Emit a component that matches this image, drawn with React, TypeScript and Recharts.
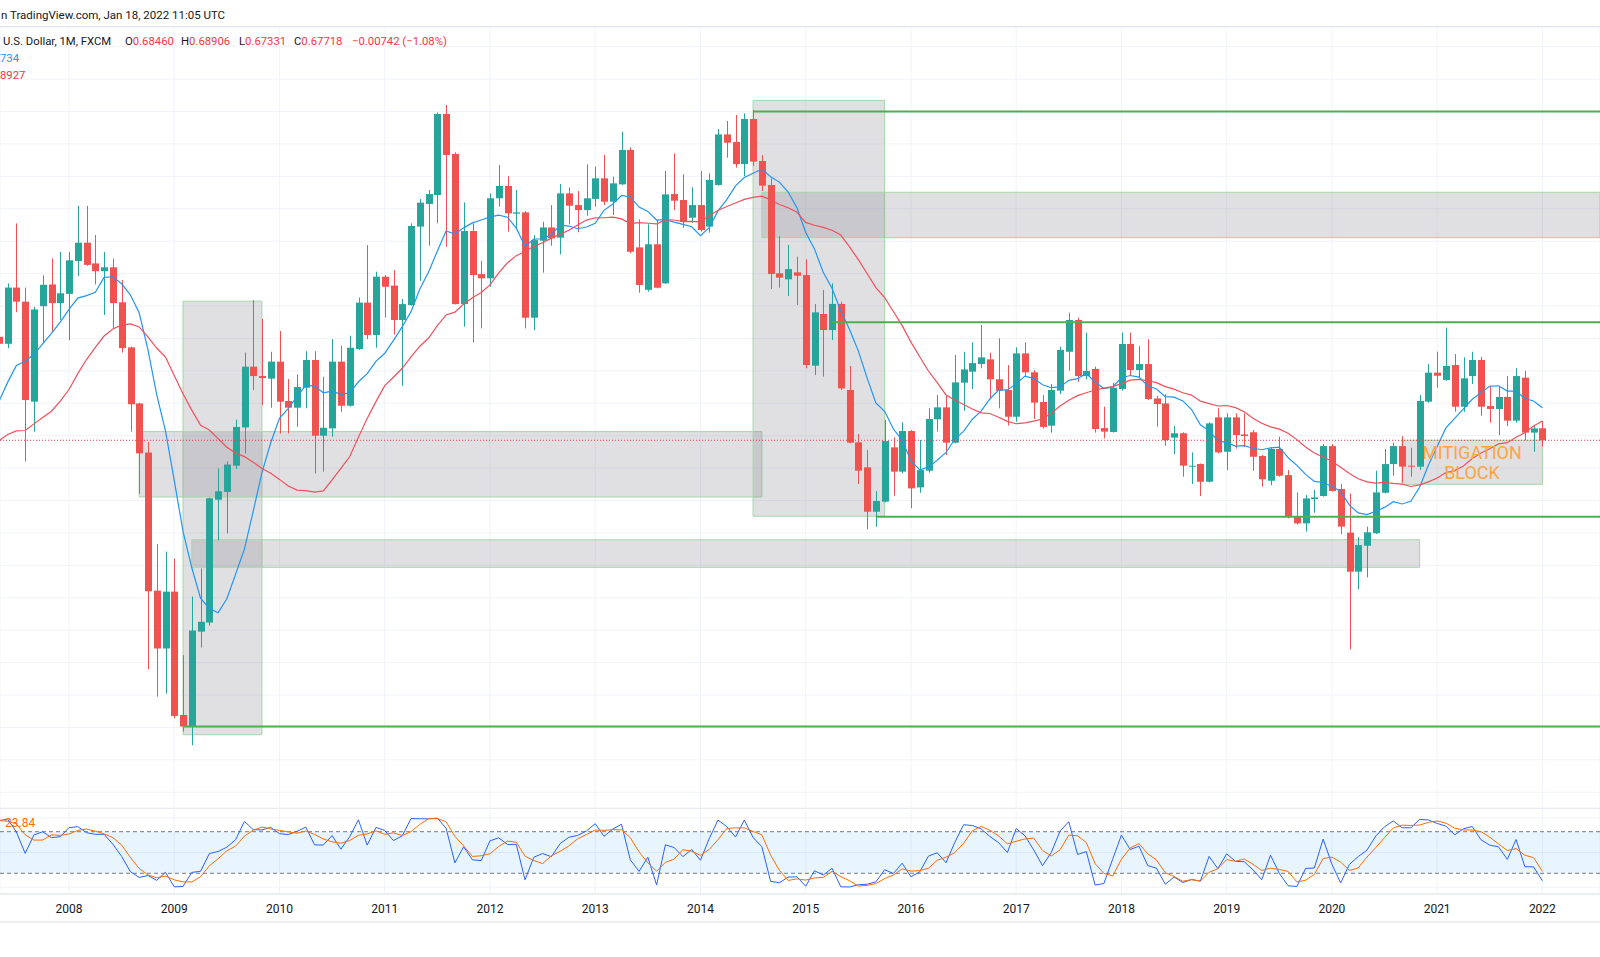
import { Bar, CartesianGrid, ComposedChart, Line, ReferenceArea, ReferenceLine, XAxis, YAxis } from "recharts"

// monthly candles, index 0 = Jan 2008, first candle = May 2007
const firstIndex = -8
const yearLabels = ["2008", "2009", "2010", "2011", "2012", "2013", "2014", "2015", "2016", "2017", "2018", "2019", "2020", "2021", "2022"]
const yearTicks = yearLabels.map((_, k) => k * 12)
const priceTicks = [0.46, 0.48, 0.5, 0.52, 0.54, 0.56, 0.58, 0.6, 0.62, 0.64, 0.66, 0.68, 0.7, 0.72, 0.74, 0.76, 0.78, 0.8, 0.82, 0.84, 0.86, 0.88, 0.9, 0.92]

const opens = [
  0.7410, 0.7367, 0.7714, 0.7627, 0.7010, 0.7599, 0.7733, 0.7618,
  0.7675, 0.7878, 0.7991, 0.7863, 0.7815, 0.7839, 0.7623, 0.7345, 0.6999, 0.6696, 0.5844, 0.5487,
  0.5838, 0.5077, 0.5006, 0.5591, 0.5647, 0.6405, 0.6453, 0.6615, 0.6851, 0.7226, 0.7168, 0.7152,
  0.7257, 0.7014, 0.6973, 0.7096, 0.7267, 0.6800, 0.6845, 0.7257, 0.6985, 0.7335, 0.7621, 0.7421,
  0.7781, 0.7726, 0.7514, 0.7606, 0.8090, 0.8230, 0.8285, 0.8785, 0.8538, 0.7612, 0.8063, 0.7797,
  0.7771, 0.8265, 0.8341, 0.8170, 0.8178, 0.7528, 0.8003, 0.8085, 0.8022, 0.8295, 0.8223, 0.8192,
  0.8261, 0.8388, 0.8244, 0.8351, 0.8563, 0.7962, 0.7700, 0.7981, 0.7740, 0.8291, 0.8254, 0.8145,
  0.8223, 0.8090, 0.8347, 0.8659, 0.8612, 0.8476, 0.8754, 0.8495, 0.8347, 0.7802, 0.7765, 0.7808,
  0.7791, 0.7232, 0.7551, 0.7452, 0.7613, 0.7082, 0.6759, 0.6605, 0.6331, 0.6393, 0.6728, 0.6578,
  0.6829, 0.6481, 0.6584, 0.6901, 0.6975, 0.6757, 0.7127, 0.7195, 0.7242, 0.7271, 0.7148, 0.7082,
  0.6917, 0.7308, 0.7191, 0.7008, 0.6862, 0.7078, 0.7318, 0.7514, 0.7168, 0.7212, 0.6847, 0.6823,
  0.7088, 0.7366, 0.7205, 0.7242, 0.7030, 0.6999, 0.6788, 0.6815, 0.6610, 0.6625, 0.6516, 0.6913,
  0.6701, 0.6913, 0.6808, 0.6821, 0.6675, 0.6522, 0.6718, 0.6557, 0.6300, 0.6259, 0.6409, 0.6428,
  0.6736, 0.6471, 0.6202, 0.5961, 0.6121, 0.6198, 0.6448, 0.6625, 0.6736, 0.6615, 0.6609, 0.7010,
  0.7189, 0.7144, 0.7236, 0.6979, 0.7168, 0.7267, 0.6983, 0.6965, 0.7039, 0.6893, 0.7158, 0.6819,
  0.6846,
]

const highs = [
  0.7460, 0.7740, 0.8110, 0.7714, 0.7594, 0.7789, 0.7893, 0.7934,
  0.7934, 0.8218, 0.8218, 0.8038, 0.7934, 0.7893, 0.7761, 0.7350, 0.7003, 0.6761, 0.6132, 0.6085,
  0.6041, 0.5446, 0.5808, 0.5981, 0.6418, 0.6598, 0.6641, 0.6899, 0.7313, 0.7636, 0.7520, 0.7318,
  0.7446, 0.7150, 0.7178, 0.7322, 0.7322, 0.7164, 0.7396, 0.7355, 0.7417, 0.7652, 0.7976, 0.7812,
  0.7791, 0.7822, 0.7643, 0.8110, 0.8260, 0.8316, 0.8795, 0.8840, 0.8548, 0.8240, 0.8110, 0.7880,
  0.8295, 0.8470, 0.8402, 0.8316, 0.8186, 0.8038, 0.8120, 0.8223, 0.8353, 0.8332, 0.8310, 0.8474,
  0.8460, 0.8532, 0.8398, 0.8676, 0.8579, 0.8135, 0.8104, 0.8131, 0.8433, 0.8542, 0.8413, 0.8332,
  0.8433, 0.8419, 0.8692, 0.8742, 0.8779, 0.8789, 0.8810, 0.8532, 0.8388, 0.8032, 0.7977, 0.7905,
  0.7888, 0.7613, 0.7699, 0.7740, 0.7627, 0.7230, 0.6810, 0.6712, 0.6458, 0.6897, 0.6790, 0.6882,
  0.6835, 0.6773, 0.6969, 0.7051, 0.7051, 0.7298, 0.7318, 0.7376, 0.7483, 0.7312, 0.7401, 0.7236,
  0.7345, 0.7376, 0.7205, 0.7051, 0.7119, 0.7349, 0.7559, 0.7528, 0.7436, 0.7226, 0.6979, 0.7127,
  0.7436, 0.7436, 0.7353, 0.7395, 0.7045, 0.7055, 0.6860, 0.6821, 0.6697, 0.6629, 0.6883, 0.6969,
  0.6938, 0.6938, 0.6938, 0.6835, 0.6681, 0.6728, 0.6794, 0.6588, 0.6450, 0.6434, 0.6465, 0.6749,
  0.6749, 0.6502, 0.6444, 0.6173, 0.6239, 0.6584, 0.6718, 0.6757, 0.6798, 0.6726, 0.7051, 0.7242,
  0.7318, 0.7467, 0.7304, 0.7283, 0.7318, 0.7287, 0.7107, 0.7107, 0.7168, 0.7216, 0.7201, 0.6860,
  0.68906,
]

const lows = [
  0.7280, 0.7340, 0.7562, 0.6641, 0.6825, 0.7371, 0.7436, 0.7514,
  0.7389, 0.7785, 0.7848, 0.7733, 0.7545, 0.7458, 0.7313, 0.6825, 0.6442, 0.5359, 0.5190, 0.5208,
  0.5056, 0.4974, 0.4890, 0.5493, 0.5628, 0.6154, 0.6197, 0.6594, 0.6691, 0.7081, 0.6990, 0.6973,
  0.6814, 0.6814, 0.6855, 0.6969, 0.6567, 0.6578, 0.6794, 0.6948, 0.6979, 0.7329, 0.7396, 0.7343,
  0.7528, 0.7425, 0.7108, 0.7602, 0.7756, 0.7972, 0.8110, 0.7966, 0.7610, 0.7473, 0.7374, 0.7462,
  0.7719, 0.8213, 0.8059, 0.8079, 0.7462, 0.7452, 0.7806, 0.7972, 0.7919, 0.8104, 0.8055, 0.8157,
  0.8213, 0.8223, 0.8162, 0.8347, 0.7925, 0.7682, 0.7689, 0.7709, 0.7736, 0.8192, 0.8083, 0.8114,
  0.8059, 0.8053, 0.8343, 0.8515, 0.8454, 0.8402, 0.8464, 0.8310, 0.7705, 0.7713, 0.7662, 0.7606,
  0.7216, 0.7174, 0.7164, 0.7390, 0.7082, 0.6753, 0.6502, 0.6222, 0.6238, 0.6389, 0.6430, 0.6568,
  0.6352, 0.6448, 0.6572, 0.6825, 0.6681, 0.6753, 0.6954, 0.7088, 0.7216, 0.7031, 0.6969, 0.6862,
  0.6886, 0.7164, 0.6903, 0.6845, 0.6819, 0.7057, 0.7201, 0.7133, 0.7148, 0.6819, 0.6784, 0.6819,
  0.7078, 0.7174, 0.7160, 0.7020, 0.6856, 0.6738, 0.6687, 0.6547, 0.6502, 0.6428, 0.6512, 0.6691,
  0.6588, 0.6720, 0.6732, 0.6584, 0.6485, 0.6494, 0.6547, 0.6290, 0.6253, 0.6208, 0.6325, 0.6424,
  0.6455, 0.6193, 0.5482, 0.5852, 0.5926, 0.6193, 0.6444, 0.6553, 0.6510, 0.6547, 0.6588, 0.7004,
  0.7096, 0.7139, 0.6948, 0.6948, 0.7119, 0.6923, 0.6880, 0.6804, 0.6860, 0.6880, 0.6773, 0.6701,
  0.67331,
]

const closes = [
  0.7367, 0.7714, 0.7627, 0.7020, 0.7579, 0.7731, 0.7618, 0.7679,
  0.7882, 0.7991, 0.7854, 0.7815, 0.7839, 0.7618, 0.7341, 0.6994, 0.6691, 0.5840, 0.5487, 0.5838,
  0.5071, 0.5006, 0.5598, 0.5652, 0.6414, 0.6457, 0.6622, 0.6854, 0.7226, 0.7168, 0.7156, 0.7257,
  0.7010, 0.6973, 0.7100, 0.7267, 0.6800, 0.6849, 0.7257, 0.6985, 0.7343, 0.7621, 0.7421, 0.7781,
  0.7719, 0.7514, 0.7612, 0.8094, 0.8238, 0.8291, 0.8785, 0.8532, 0.7612, 0.8063, 0.7791, 0.7771,
  0.8265, 0.8341, 0.8172, 0.8178, 0.7528, 0.8007, 0.8085, 0.8018, 0.8295, 0.8219, 0.8192, 0.8265,
  0.8388, 0.8244, 0.8357, 0.8563, 0.7935, 0.7730, 0.7981, 0.7713, 0.8289, 0.8250, 0.8120, 0.8223,
  0.8069, 0.8378, 0.8659, 0.8608, 0.8476, 0.8754, 0.8491, 0.8343, 0.7798, 0.7775, 0.7828, 0.7787,
  0.7236, 0.7561, 0.7452, 0.7613, 0.7092, 0.6757, 0.6584, 0.6331, 0.6397, 0.6767, 0.6578, 0.6829,
  0.6475, 0.6588, 0.6903, 0.6975, 0.6757, 0.7129, 0.7209, 0.7248, 0.7283, 0.7148, 0.7078, 0.6917,
  0.7308, 0.7191, 0.7004, 0.6854, 0.7082, 0.7329, 0.7514, 0.7168, 0.7199, 0.6841, 0.6825, 0.7096,
  0.7366, 0.7205, 0.7242, 0.7026, 0.6995, 0.6773, 0.6815, 0.6615, 0.6615, 0.6516, 0.6876, 0.6697,
  0.6913, 0.6804, 0.6798, 0.6670, 0.6531, 0.6718, 0.6553, 0.6304, 0.6259, 0.6413, 0.6419, 0.6736,
  0.6459, 0.6239, 0.5961, 0.6125, 0.6204, 0.6450, 0.6625, 0.6736, 0.6609, 0.6609, 0.7014, 0.7189,
  0.7170, 0.7230, 0.6979, 0.7154, 0.7267, 0.6979, 0.6965, 0.7039, 0.6893, 0.7168, 0.6819, 0.6845,
  0.67718,
]

const sma9Lead = [0.7010, 0.7129, 0.7233, 0.7259, 0.7302, 0.7367, 0.7432, 0.7501]
const sma21Lead = [
  0.6769, 0.6808, 0.6830, 0.6832, 0.6873, 0.6912, 0.6951, 0.7014, 0.7085, 0.7183,
  0.7270, 0.7345, 0.7415, 0.7458, 0.7482, 0.7490, 0.7471, 0.7410, 0.7341, 0.7285,
]
const stochKLead = [95.9, 98.3, 79.6, 48.8, 75.2, 80.0, 71.4, 72.8, 85.8, 87.3, 78.6, 76.2, 76.2]
const stochDLead = [96, 95]

// drawings: [fromIndex, toIndex, topPrice, bottomPrice]
const boxes = [
  [13, 22, 0.763, 0.4955],
  [8, 79, 0.6825, 0.6422],
  [14, 154, 0.6158, 0.5988],
  [78, 93, 0.8869, 0.6303],
  [79, 174.57, 0.8302, 0.8022],
  [152, 168, 0.6772, 0.65],
]
// horizontal rays: [fromIndex, price]
const levels = [
  [78, 0.88],
  [87, 0.75],
  [92, 0.63],
  [13, 0.5005],
]

const X_MIN = -7.868
const X_MAX = 174.57
const P_MIN = 0.45029
const P_MAX = 0.93217
const S_MIN = -9.86
const S_MAX = 114.19

const UP = "#26a69a"
const DOWN = "#ef5350"

const avg = (arr: number[], from: number, to: number) => {
  let s = 0
  for (let j = from; j <= to; j++) s += arr[j]
  return s / (to - from + 1)
}

const stochK = closes.map((c, n) => {
  if (n < stochKLead.length) return stochKLead[n]
  const hh = Math.max(...highs.slice(n - 13, n + 1))
  const ll = Math.min(...lows.slice(n - 13, n + 1))
  return ((c - ll) / (hh - ll)) * 100
})

const rows = closes.map((c, n) => ({
  i: n + firstIndex,
  o: opens[n],
  h: highs[n],
  l: lows[n],
  c,
  range: [lows[n], highs[n]],
  ma9: n < 8 ? sma9Lead[n] : avg(closes, n - 8, n),
  ma21: n < 20 ? sma21Lead[n] : avg(closes, n - 20, n),
  k: stochK[n],
  d: n < 2 ? stochDLead[n] : avg(stochK, n - 2, n),
}))

const lastClose = closes[closes.length - 1]

function Candle(props: any) {
  const { x, y, width, height, payload } = props
  if (!payload) return null
  const { o, h, l, c } = payload
  const color = c >= o ? UP : DOWN
  const top = Math.min(y, y + height)
  const full = Math.abs(height)
  const span = h - l || 1e-9
  const at = (p: number) => top + ((h - p) / span) * full
  const bodyTop = at(Math.max(o, c))
  const bodyBottom = at(Math.min(o, c))
  const cx = Math.round(x + width / 2) + 0.5
  return (
    <g>
      <line x1={cx} x2={cx} y1={top} y2={top + full} stroke={color} strokeWidth={1} />
      <rect x={cx - 3.5} y={bodyTop} width={7} height={Math.max(1, bodyBottom - bodyTop)} fill={color} />
    </g>
  )
}

const txt = { position: "absolute" as const, whiteSpace: "nowrap" as const, lineHeight: "14px" }

export default function App() {
  return (
    <div
      style={{
        position: "absolute",
        left: 0,
        top: 0,
        width: 1600,
        height: 957,
        background: "#ffffff",
        overflow: "hidden",
        fontFamily: "Roboto, 'Noto Sans', sans-serif",
        color: "#131722",
      }}
    >
      <div style={{ position: "absolute", left: 0, top: 26, width: 1600, height: 1, background: "#e0e3eb" }} />

      <div style={{ position: "absolute", left: 0, top: 27 }}>
        <ComposedChart width={1600} height={781} data={rows} margin={{ top: 0, right: 0, bottom: 0, left: 0 }}>
          <CartesianGrid stroke="#f0f3fa" strokeWidth={1} />
          <XAxis type="number" dataKey="i" domain={[X_MIN, X_MAX]} ticks={yearTicks} hide allowDataOverflow />
          <YAxis type="number" domain={[P_MIN, P_MAX]} ticks={priceTicks} hide allowDataOverflow />
          <Bar dataKey="range" shape={<Candle />} barSize={7} isAnimationActive={false} />
          <Line type="linear" dataKey="ma9" stroke="#2196f3" strokeWidth={1.2} dot={false} isAnimationActive={false} />
          <Line type="linear" dataKey="ma21" stroke="#f0505c" strokeWidth={1.2} dot={false} isAnimationActive={false} />
          <ReferenceLine y={lastClose} stroke="#f23645" strokeWidth={1} strokeDasharray="1 2" />
          {boxes.map(([x1, x2, y1, y2], n) => (
            <ReferenceArea
              key={"b" + n}
              x1={x1}
              x2={x2}
              y1={y1}
              y2={y2}
              fill="#787b86"
              fillOpacity={0.23}
              stroke="#a5d6a7"
              strokeWidth={1}
            />
          ))}
          {levels.map(([from, price], n) => (
            <ReferenceLine
              key={"l" + n}
              segment={[
                { x: from, y: price },
                { x: X_MAX, y: price },
              ]}
              stroke="#4caf50"
              strokeWidth={2}
            />
          ))}
        </ComposedChart>
      </div>

      <div style={{ position: "absolute", left: 0, top: 808, width: 1600, height: 1, background: "#e0e3eb" }} />

      <div style={{ position: "absolute", left: 0, top: 808 }}>
        <ComposedChart width={1600} height={114} data={rows} margin={{ top: 0, right: 0, bottom: 0, left: 0 }}>
          <CartesianGrid stroke="#f0f3fa" strokeWidth={1} />
          <XAxis
            type="number"
            dataKey="i"
            domain={[X_MIN, X_MAX]}
            ticks={yearTicks}
            interval={0}
            tickFormatter={(v: number) => yearLabels[Math.round(v / 12)]}
            height={28}
            tickLine={false}
            tickSize={6}
            tickMargin={4}
            axisLine={{ stroke: "#e0e3eb" }}
            tick={{ fill: "#131722", fontSize: 12, fontFamily: "Roboto" }}
            allowDataOverflow
          />
          <YAxis type="number" domain={[S_MIN, S_MAX]} ticks={[0, 50, 100]} hide allowDataOverflow />
          <ReferenceArea y1={20} y2={80} fill="#2196f3" fillOpacity={0.1} stroke="none" />
          <ReferenceLine y={80} stroke="#787b86" strokeDasharray="4 3" />
          <ReferenceLine y={20} stroke="#787b86" strokeDasharray="4 3" />
          <Line type="linear" dataKey="k" stroke="#2962ff" strokeWidth={1} dot={false} isAnimationActive={false} />
          <Line type="linear" dataKey="d" stroke="#ff6d00" strokeWidth={1} dot={false} isAnimationActive={false} />
        </ComposedChart>
      </div>

      <div style={{ position: "absolute", left: 0, top: 921, width: 1600, height: 2, background: "#eceef3" }} />

      <div style={{ ...txt, left: 1, top: 8, fontSize: 11.5 }}>n TradingView.com, Jan 18, 2022 11:05 UTC</div>
      <div style={{ ...txt, left: 3, top: 35, fontSize: 11.3 }}>U.S. Dollar, 1M, FXCM</div>
      <div style={{ ...txt, left: 125, top: 35, fontSize: 11.3 }}>
        O<span style={{ color: "#f23645" }}>0.68460</span>
      </div>
      <div style={{ ...txt, left: 181, top: 35, fontSize: 11.3 }}>
        H<span style={{ color: "#f23645" }}>0.68906</span>
      </div>
      <div style={{ ...txt, left: 239, top: 35, fontSize: 11.3 }}>
        L<span style={{ color: "#f23645" }}>0.67331</span>
      </div>
      <div style={{ ...txt, left: 294, top: 35, fontSize: 11.3 }}>
        C<span style={{ color: "#f23645" }}>0.67718</span>
      </div>
      <div style={{ ...txt, left: 352, top: 35, fontSize: 11.3, color: "#f23645" }}>−0.00742 (−1.08%)</div>
      <div style={{ ...txt, left: 0, top: 52, fontSize: 11.3, color: "#2196f3" }}>734</div>
      <div style={{ ...txt, left: 0, top: 69, fontSize: 11.3, color: "#f23645" }}>8927</div>

      <div style={{ ...txt, left: 5, top: 816, fontSize: 12, color: "#ff6d00" }}>23.84</div>

      <div style={{ ...txt, left: 1372, width: 200, textAlign: "center", top: 443, fontSize: 18, lineHeight: "20px", color: "#ffa53c" }}>
        MITIGATION
      </div>
      <div style={{ ...txt, left: 1372, width: 200, textAlign: "center", top: 463, fontSize: 18, lineHeight: "20px", color: "#ffa53c" }}>
        BLOCK
      </div>
    </div>
  )
}
